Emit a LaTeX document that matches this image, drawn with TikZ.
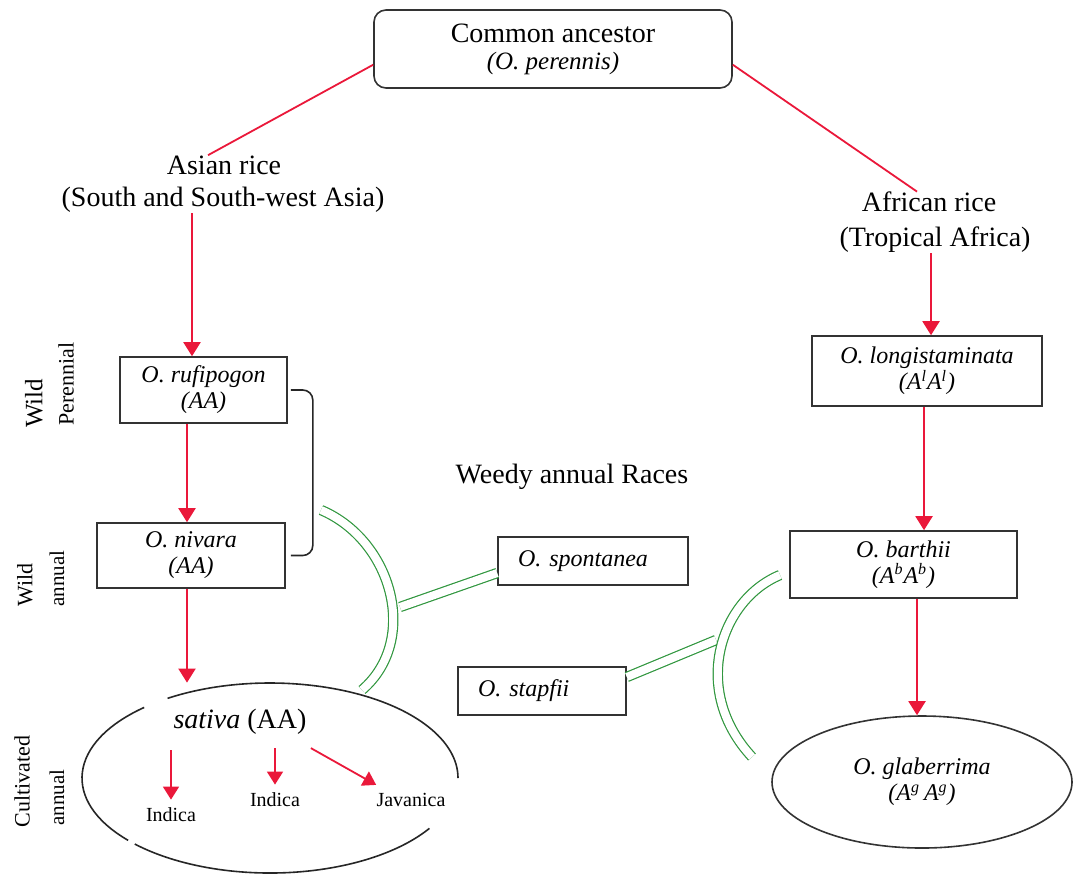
\documentclass[tikz,border=0pt]{standalone}
\usepackage{fontspec}
\setmainfont{Liberation Serif}
\usetikzlibrary{arrows.meta,shapes.geometric}

\definecolor{linkred}{RGB}{234,24,58}
\definecolor{hybgreen}{RGB}{48,150,62}

\begin{document}
\begin{tikzpicture}[x=0.5pt,y=-0.5pt,
    box/.style={draw=black!80,line width=0.8pt,inner sep=0pt,align=center,font=\fontsize{12}{13}\selectfont\itshape},
    lbl/.style={inner sep=0pt,font=\fontsize{14}{16}\selectfont},
    variety/.style={inner sep=4pt,font=\fontsize{10}{12}\selectfont},
    side/.style={rotate=90,anchor=west,inner sep=0pt},
    redarrow/.style={color=linkred,line width=1pt,-{Triangle[width=8.5pt,length=7pt]}},
    smallarrow/.style={color=linkred,line width=0.9pt,-{Triangle[width=8pt,length=6.5pt]}},
    redline/.style={color=linkred,line width=0.9pt},
    ring/.style={draw=black!85,line width=0.8pt},
    hybrid/.style={draw=hybgreen,line width=0.6pt,double=white,double distance=4pt}]
        \useasboundingbox (0, 0) rectangle (1074, 875);

        \node[draw=black!80,line width=0.8pt,rounded corners=6pt,minimum width=179pt,minimum height=39pt,align=center,font=\fontsize{14}{13.5}\selectfont] at (553, 49)(ancestor){Common ancestor\\{\fontsize{12.5}{13.5}\selectfont\textit{(O. perennis)}}};

        \node[lbl] at (224, 165)(asian){Asian rice};
        \node[lbl] at (223, 200)(asianreg){(South and South-west Asia)};
        \node[lbl] at (929, 202)(african){African rice};
        \node[lbl] at (935, 240)(africanreg){(Tropical Africa)};
        \node[lbl] at (572, 477)(weedy){Weedy annual Races};

        \node[box,minimum width=83.5pt,minimum height=33pt] at (203.5, 390)(rufipogon){O. rufipogon\\(AA)};
        \node[box,minimum width=94pt,minimum height=32.5pt] at (191, 555.5)(nivara){O. nivara\\(AA)};
        \node[box,minimum width=115pt,minimum height=35pt] at (927, 371)(longistaminata){O. longistaminata\\(A\textsuperscript{l}A\textsuperscript{l})};
        \node[box,minimum width=113.5pt,minimum height=33.5pt] at (903.5, 564.5)(barthii){O. barthii\\(A\textsuperscript{b}A\textsuperscript{b})};
        \node[box,align=left,inner xsep=10pt,text width=75pt,minimum height=24pt] at (593, 561)(spontanea){O. spontanea};
        \node[box,align=left,inner xsep=10pt,text width=64pt,minimum height=24pt] at (542, 691)(stapfii){O. stapfii};
        \node[box,ellipse,minimum width=150pt,minimum height=66pt] at (922, 782)(glaberrima){O. glaberrima\\(A\textsuperscript{g}\,A\textsuperscript{g})};

        \node[ellipse,inner sep=0pt,minimum width=188pt,minimum height=95pt] at (270, 778)(sativa){};
        \node[lbl] at (240, 722)(satlabel){\textit{sativa} (AA)};
        \node[variety] at (171, 815)(indicaA){Indica};
        \node[variety] at (275, 800)(indicaB){Indica};
        \node[variety] at (411, 800)(javanica){Javanica};

        \node[side,font=\fontsize{12.5}{14}\selectfont] at (34, 428)(wildP){Wild};
        \node[side,font=\fontsize{11}{13}\selectfont] at (66, 426)(perennial){Perennial};
        \node[side,font=\fontsize{11}{13}\selectfont] at (25, 607)(wildA){Wild};
        \node[side,font=\fontsize{10.5}{12}\selectfont] at (57, 607)(annualA){annual};
        \node[side,font=\fontsize{11}{13}\selectfont] at (22, 828)(cultivated){Cultivated};
        \node[side,font=\fontsize{10.5}{12}\selectfont] at (57, 826)(annualC){annual};

        \draw[ring] (sativa.center) ++(237:188 and 95) arc[start angle=237, end angle=360, x radius=188, y radius=95];
        \draw[ring] (sativa.center) ++(32:188 and 95) arc[start angle=32, end angle=136, x radius=188, y radius=95];
        \draw[ring] (sativa.center) ++(139:188 and 95) arc[start angle=139, end angle=228, x radius=188, y radius=95];

        \draw[ring,rounded corners=5pt] ([xshift=1.5pt]rufipogon.east) -| ([xshift=12.5pt]rufipogon.east |- nivara.east) -- ([xshift=2.5pt]nivara.east);

        \coordinate (ljoin) at (400, 607);
        \coordinate (rjoin) at (716, 640);
        \draw[hybrid] (ljoin) -- ([yshift=-6pt]spontanea.west);
        \draw[hybrid] ([yshift=7pt]stapfii.east) -- (rjoin);
        \draw[hybrid] (321, 510) .. controls (392, 540) and (420, 640) .. (362, 690);
        \draw[hybrid] (780, 575) .. controls (720, 600) and (690, 690) .. (752, 757);

        \path[redline]
        (ancestor.-175)edge([xshift=-8pt]asian.north)
        (ancestor.-5)edge([xshift=-6pt]african.north)
        ;

        \path[redarrow]
        ([xshift=-15.5pt]asianreg.south)edge([xshift=-5.75pt]rufipogon.north)
        ([xshift=-8.25pt]rufipogon.south)edge([xshift=-2pt]nivara.north)
        ([xshift=-2pt]nivara.south)edge([xshift=-2pt]nivara.south |- sativa.north)
        ([xshift=-2pt]africanreg.south)edge([xshift=2pt]longistaminata.north)
        ([xshift=-1.5pt]longistaminata.south)edge([xshift=10.25pt]barthii.north)
        ([xshift=6.75pt]barthii.south)edge([xshift=-2.5pt]glaberrima.north)
        ;

        \path[smallarrow]
        ([yshift=-7.5pt]indicaA.north |- satlabel.south)edge(indicaA.north)
        ([yshift=-6.5pt]indicaB.north |- satlabel.south)edge(indicaB.north)
        ([xshift=2pt,yshift=-6.5pt]satlabel.south east)edge([xshift=4pt]javanica.north west)
        ;
    \end{tikzpicture}
\end{document}
